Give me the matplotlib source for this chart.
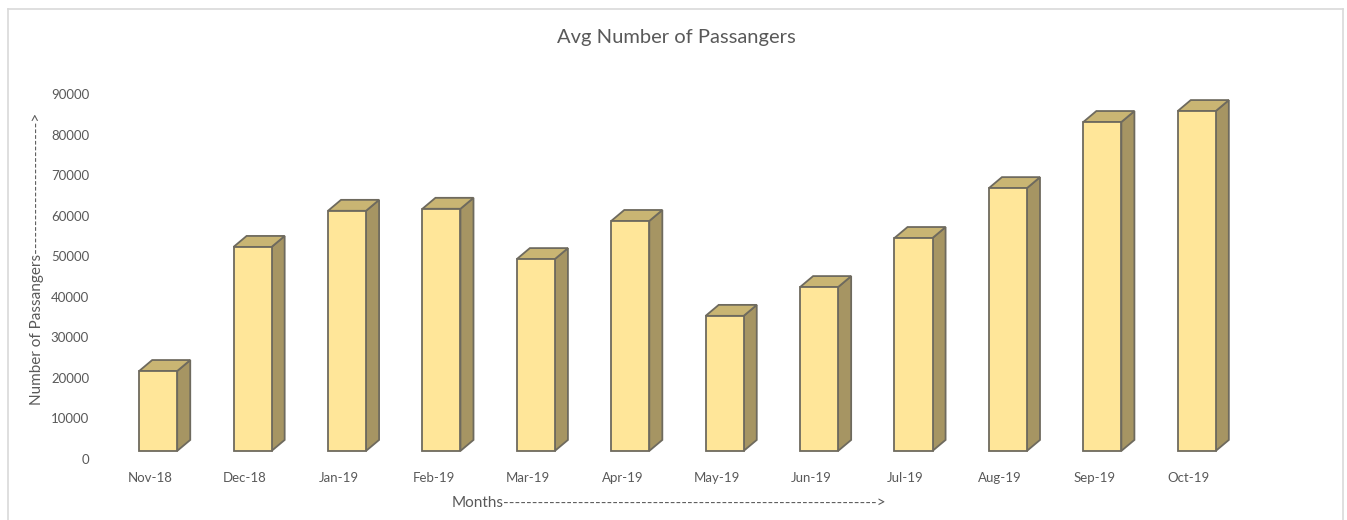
import matplotlib
matplotlib.use("Agg")
import matplotlib.pyplot as plt
from matplotlib.patches import Polygon
from matplotlib.lines import Line2D

plt.rcParams["font.family"] = ["Lato", "DejaVu Sans"]

months = ["Nov-18", "Dec-18", "Jan-19", "Feb-19", "Mar-19", "Apr-19",
          "May-19", "Jun-19", "Jul-19", "Aug-19", "Sep-19", "Oct-19"]
passengers = [21700, 52300, 61200, 61700, 49300, 58700,
              35300, 42400, 54500, 66800, 83100, 85800]
y_ticks = list(range(0, 90001, 10000))

# look of the 3d columns
front_col = "#FFE699"
top_col = "#C9B573"
side_col = "#A69563"
edge_col = "#6E6A5E"
text_col = "#595959"
floor = 2000        # columns sit slightly above the back-wall zero
off = -0.117        # front face starts a bit left of the category centre
width = 0.403
dx, dy = 0.138, 2700  # depth of the columns

W, H = 1347, 520
fig = plt.figure(figsize=(W / 100, H / 100), dpi=100)
ax = fig.add_axes([103 / W, 61 / H, 1133 / W, 365 / H])

for i, v in enumerate(passengers):
    x0 = i + 0.5 + off
    x1 = x0 + width
    front = Polygon([(x0, floor), (x1, floor), (x1, v), (x0, v)], closed=True,
                    facecolor=front_col, edgecolor=edge_col, lw=1.3, clip_on=False, zorder=3)
    side = Polygon([(x1, floor), (x1 + dx, floor + dy), (x1 + dx, v + dy), (x1, v)], closed=True,
                   facecolor=side_col, edgecolor=edge_col, lw=1.3, clip_on=False, zorder=2)
    top = Polygon([(x0, v), (x1, v), (x1 + dx, v + dy), (x0 + dx, v + dy)], closed=True,
                  facecolor=top_col, edgecolor=edge_col, lw=1.3, clip_on=False, zorder=2)
    for p in (side, top, front):
        ax.add_patch(p)

ax.set_xlim(0, len(months))
ax.set_ylim(0, 90000)
ax.set_xticks([i + 0.5 for i in range(len(months))])
ax.set_xticklabels(months)
ax.set_yticks(y_ticks)
ax.set_yticklabels([str(t) for t in y_ticks])
ax.tick_params(axis="both", length=0, labelsize=9.5, labelcolor=text_col)
ax.tick_params(axis="x", pad=9)
ax.tick_params(axis="y", pad=10)
for s in ax.spines.values():
    s.set_visible(False)
ax.patch.set_alpha(0)

fig.text(676 / W, 1 - 38 / H, "Avg Number of Passangers", ha="center", va="center",
         fontsize=14.5, color=text_col)
fig.text(37 / W, 1 - 405 / H, "Number of Passangers" + "-" * 23 + ">", rotation=90,
         ha="center", va="bottom", fontsize=11, color=text_col)
fig.text(452 / W, 1 - 503 / H, "Months" + "-" * 65 + ">", ha="left", va="center",
         fontsize=11, color=text_col)

# light frame round the chart
bx0, bx1, by = 8 / W, 1343 / W, 1 - 9 / H
for xs, ys in [((bx0, bx1), (by, by)), ((bx0, bx0), (by, 0)), ((bx1, bx1), (by, 0))]:
    fig.add_artist(Line2D(xs, ys, color="#D9D9D9", lw=1.2, transform=fig.transFigure))

fig.savefig("out.png", dpi=100, facecolor="white")
